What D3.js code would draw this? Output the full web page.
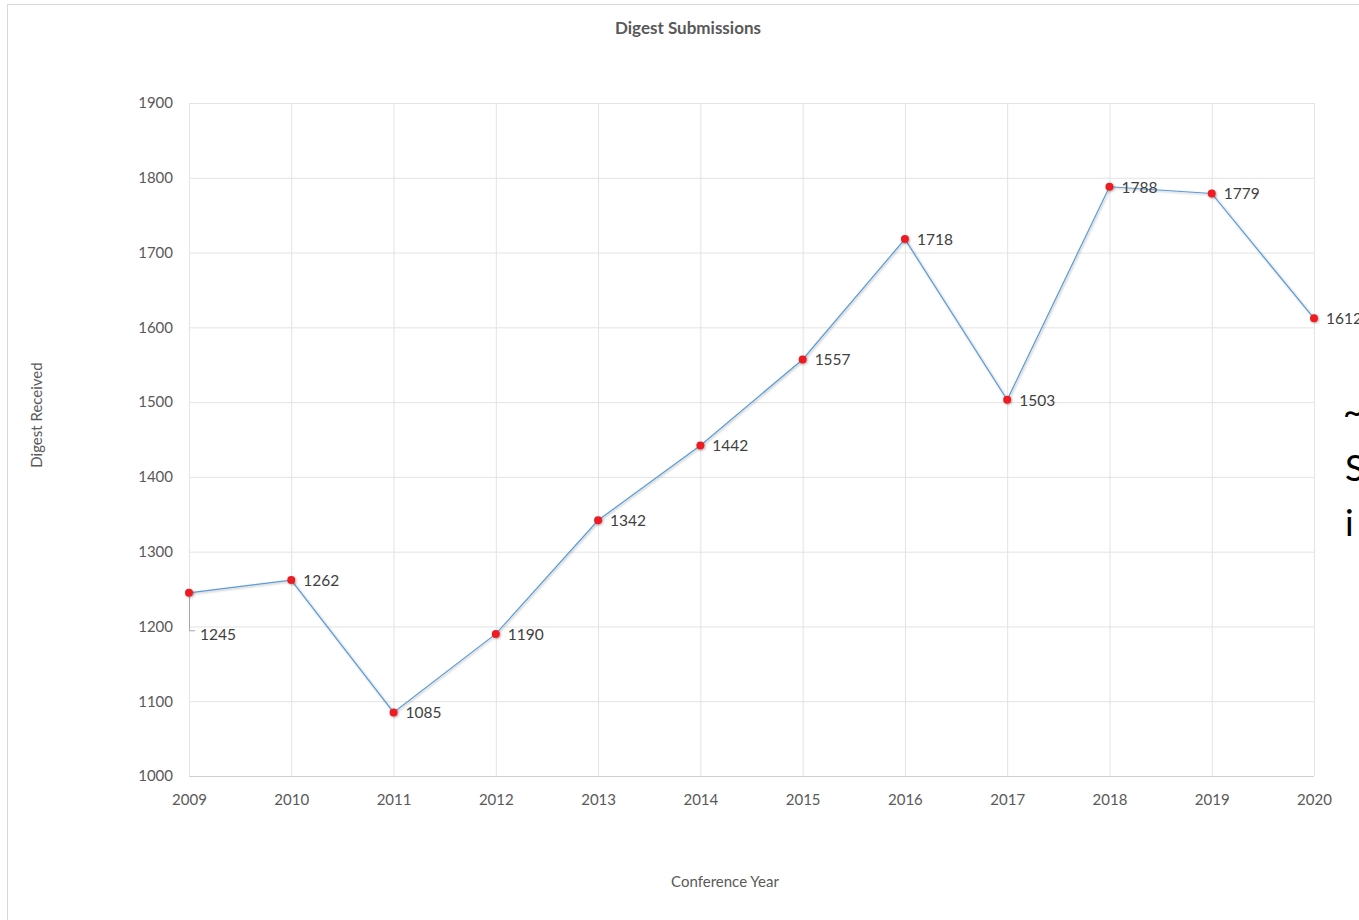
<!DOCTYPE html>
<html>
<head>
<meta charset="utf-8">
<script src="https://cdn.jsdelivr.net/npm/d3@7"></script>
<style>
  body { margin: 0; background: #fff; overflow: hidden; }
  text { font-family: Lato, "Open Sans", sans-serif; }
</style>
</head>
<body>
<div class="canvas"></div>
<script>
// chart data
const years = [2009, 2010, 2011, 2012, 2013, 2014, 2015, 2016, 2017, 2018, 2019, 2020];
const digests = [1245, 1262, 1085, 1190, 1342, 1442, 1557, 1718, 1503, 1788, 1779, 1612];
const yTicks = [1000, 1100, 1200, 1300, 1400, 1500, 1600, 1700, 1800, 1900];

const width = 1359, height = 920;

const svg = d3.select('.canvas')
  .append('svg')
    .attr('width', width)
    .attr('height', height);

// shadow for markers and line
const defs = svg.append('defs');
const f = defs.append('filter').attr('id', 'shadow')
  .attr('x', '-50%').attr('y', '-50%').attr('width', '200%').attr('height', '200%');
f.append('feDropShadow')
  .attr('dx', 1).attr('dy', 1).attr('stdDeviation', 1)
  .attr('flood-color', '#000').attr('flood-opacity', 0.3);

// chart area border
svg.append('rect')
  .attr('x', 7.5).attr('y', 4.5)
  .attr('width', 1400).attr('height', 1000)
  .attr('fill', '#fff')
  .attr('stroke', '#d9d9d9');

const margin = {top: 103, left: 189};
const graphWidth = 1314 - 189;
const graphHeight = 776 - 103;

const graph = svg.append('g')
  .attr('transform', `translate(${margin.left}, ${margin.top})`);

const x = d3.scalePoint()
  .domain(years)
  .range([0, graphWidth]);

const y = d3.scaleLinear()
  .domain([1000, 1900])
  .range([graphHeight, 0]);

// horizontal gridlines
graph.append('g')
  .selectAll('line')
  .data(yTicks)
  .enter().append('line')
    .attr('x1', 0).attr('x2', graphWidth)
    .attr('y1', d => y(d) + 0.5).attr('y2', d => y(d) + 0.5)
    .attr('stroke', '#e3e3e3');

// vertical gridlines
graph.append('g')
  .selectAll('line')
  .data(years)
  .enter().append('line')
    .attr('x1', d => x(d) + 0.5).attr('x2', d => x(d) + 0.5)
    .attr('y1', 0).attr('y2', graphHeight)
    .attr('stroke', '#e3e3e3');

// bottom axis line
graph.append('line')
  .attr('x1', 0).attr('x2', graphWidth)
  .attr('y1', graphHeight + 0.5).attr('y2', graphHeight + 0.5)
  .attr('stroke', '#d0d0d0');

// axes (labels only)
const xAxis = d3.axisBottom(x).tickSize(0).tickPadding(18);
const yAxis = d3.axisLeft(y).tickValues(yTicks).tickFormat(d3.format('d')).tickSize(0).tickPadding(16);

const xAxisGroup = graph.append('g')
  .attr('transform', `translate(0, ${graphHeight})`)
  .call(xAxis);
const yAxisGroup = graph.append('g').call(yAxis);

[xAxisGroup, yAxisGroup].forEach(g => {
  g.select('.domain').remove();
  g.selectAll('text')
    .attr('fill', '#595959')
    .style('font-size', '15px')
    .style('font-family', 'Lato, "Open Sans", sans-serif');
});

// the line
const line = d3.line()
  .x((d, i) => x(years[i]))
  .y(d => y(d));

graph.append('path')
  .datum(digests)
  .attr('d', line)
  .attr('fill', 'none')
  .attr('stroke', '#5b9bd5')
  .attr('stroke-width', 1.2)
  .attr('filter', 'url(#shadow)');

// leader line for first label
graph.append('path')
  .attr('d', `M${x(years[0]) + 0.5},${y(digests[0]) + 4} V${y(digests[0]) + 38} H${x(years[0]) + 6}`)
  .attr('fill', 'none')
  .attr('stroke', '#a6a6a6')
  .attr('stroke-width', 1);

// markers
graph.selectAll('circle')
  .data(digests)
  .enter().append('circle')
    .attr('cx', (d, i) => x(years[i]))
    .attr('cy', d => y(d))
    .attr('r', 4)
    .attr('fill', '#ee1c24')
    .attr('filter', 'url(#shadow)');

// data labels
graph.selectAll('.label')
  .data(digests)
  .enter().append('text')
    .attr('class', 'label')
    .attr('x', (d, i) => i === 0 ? x(years[i]) + 11 : x(years[i]) + 12)
    .attr('y', (d, i) => i === 0 ? y(d) + 47 : y(d) + 6)
    .attr('fill', '#404040')
    .style('font-size', '15.5px')
    .text(d => d);

// titles
svg.append('text')
  .attr('x', 688).attr('y', 34)
  .attr('text-anchor', 'middle')
  .attr('fill', '#595959')
  .style('font-size', '17px')
  .style('font-weight', 'bold')
  .text('Digest Submissions');

svg.append('text')
  .attr('x', 725).attr('y', 887)
  .attr('text-anchor', 'middle')
  .attr('fill', '#595959')
  .style('font-size', '15px')
  .text('Conference Year');

svg.append('text')
  .attr('transform', 'translate(42, 415) rotate(-90)')
  .attr('text-anchor', 'middle')
  .attr('fill', '#595959')
  .style('font-size', '15px')
  .text('Digest Received');

// clipped slide text at the right edge
const side = svg.append('g').attr('fill', '#000').style('font-size', '36px');
side.append('text').attr('x', 1343).attr('y', 425).text('~');
side.append('text').attr('x', 1345).attr('y', 481).text('S');
side.append('text').attr('x', 1345).attr('y', 536).text('i');
</script>
</body>
</html>
